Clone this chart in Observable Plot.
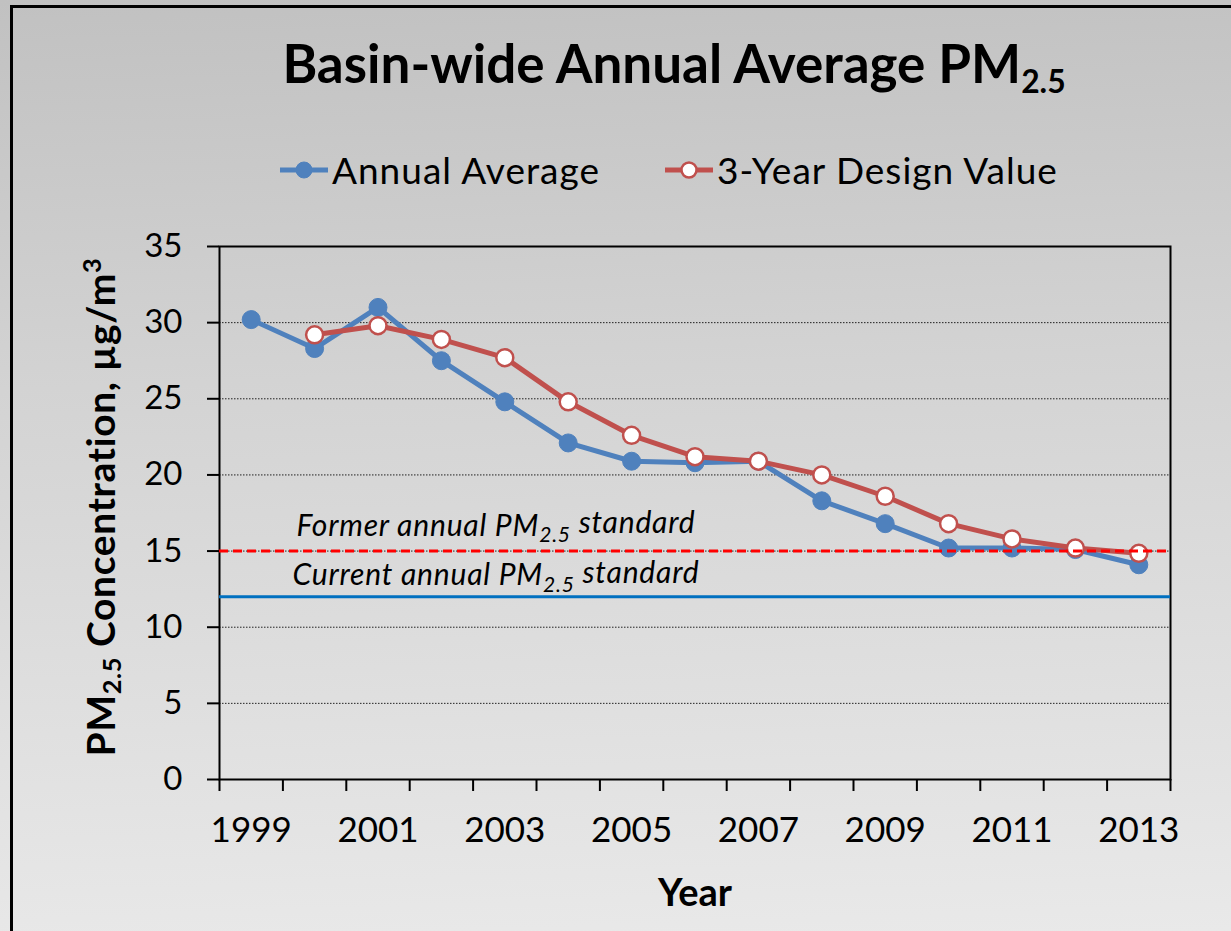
<!DOCTYPE html>
<html>
<head>
<meta charset="utf-8">
<script src="https://cdn.jsdelivr.net/npm/d3@7"></script>
<script src="https://cdn.jsdelivr.net/npm/@observablehq/plot@0.6"></script>
<style>
  html, body { margin: 0; padding: 0; }
  body {
    width: 1231px; height: 931px; overflow: hidden;
    background: linear-gradient(178deg, #c1c1c1 0%, #d3d3d3 40%, #e9e9e9 100%);
    font-family: Lato, "Open Sans", sans-serif;
  }
  #wrap { position: relative; width: 1231px; height: 931px; }
  #frame {
    position: absolute; left: 10px; top: 5px; width: 1400px; height: 1100px;
    border-left: 3px solid #000; border-top: 3px solid #000; box-sizing: border-box;
  }
  #title {
    position: absolute; left: 674px; top: 36px; transform: translateX(-50%);
    white-space: nowrap; font-weight: bold; font-size: 53px; line-height: 1; color: #000;
  }
  #title sub { font-size: 60%; vertical-align: -0.3em; line-height: 0; }
  .legend-item {
    position: absolute; top: 150px; display: flex; align-items: center;
    white-space: nowrap; font-size: 37px; letter-spacing: 1px; line-height: 40px; color: #000;
  }
  .legend-item svg { margin-right: 4px; }
  #ylabel {
    position: absolute; left: 100px; top: 507px;
    transform: translate(-50%, -50%) rotate(-90deg);
    white-space: nowrap; font-weight: bold; font-size: 39px; letter-spacing: 0.6px; line-height: 1; color: #000;
  }
  #ylabel sub { font-size: 65%; vertical-align: -0.25em; line-height: 0; }
  #ylabel sup { font-size: 65%; vertical-align: 0.55em; line-height: 0; }
  #xlabel {
    position: absolute; left: 695px; top: 872px; transform: translateX(-50%);
    white-space: nowrap; font-weight: bold; font-size: 38px; line-height: 1; color: #000;
  }
  #chart { position: absolute; left: 0; top: 0; }
  g.anno text { letter-spacing: 0.8px; }
</style>
</head>
<body>
<div id="wrap">
  <div id="frame"></div>
  <div id="chart"></div>
  <div id="title">Basin-wide Annual Average PM<sub>2.5</sub></div>
  <div id="legend"></div>
  <div id="ylabel">PM<sub>2.5</sub> Concentration, µg/m<sup>3</sup></div>
  <div id="xlabel">Year</div>
</div>
<script>
// ---- data ----
const years = [1999, 2000, 2001, 2002, 2003, 2004, 2005, 2006, 2007, 2008, 2009, 2010, 2011, 2012, 2013];
const annualAverage = [30.2, 28.3, 31.0, 27.5, 24.8, 22.1, 20.9, 20.8, 20.9, 18.3, 16.8, 15.2, 15.2, 15.1, 14.1];
const designValue = [null, 29.2, 29.8, 28.9, 27.7, 24.8, 22.6, 21.2, 20.9, 20.0, 18.6, 16.8, 15.8, 15.2, 14.85];
const seriesNames = ["Annual Average", "3-Year Design Value"];
const seriesColors = ["#4f81bd", "#c0504d"];
const yTicks = [0, 5, 10, 15, 20, 25, 30, 35];
const gridLines = [5, 10, 15, 20, 25, 30];
const xLabelYears = [1999, 2001, 2003, 2005, 2007, 2009, 2011, 2013];
const formerStandard = 15;
const currentStandard = 12;
const standardColors = ["#ff0000", "#0070c0"];
const annotations = [
  { x: 2002.86, y: formerStandard, pre: "Former annual PM", sub: "2.5", post: " standard" },
  { x: 2002.86, y: currentStandard, pre: "Current annual PM", sub: "2.5", post: " standard" }
];

const annualData = years.map((year, i) => ({ year, value: annualAverage[i] }));
const designData = years.map((year, i) => ({ year, value: designValue[i] })).filter(d => d.value != null);
const boundaries = years.map(y => y - 0.5).concat([years[years.length - 1] + 0.5]);

const plot = Plot.plot({
  width: 1231,
  height: 931,
  marginLeft: 219,
  marginRight: 61,
  marginTop: 246,
  marginBottom: 152,
  style: { background: "transparent", fontFamily: "Lato, 'Open Sans', sans-serif", color: "#000", overflow: "visible" },
  x: { type: "linear", domain: [years[0] - 0.5, years[years.length - 1] + 0.5] },
  y: { domain: [0, 35] },
  marks: [
    Plot.ruleY(gridLines, { stroke: "#000", strokeWidth: 1, strokeDasharray: "1.5,1.5", strokeOpacity: 0.85 }),
    Plot.axisY({ ticks: yTicks, tickSize: 12, tickPadding: 25, fontSize: 33, label: null, tickFormat: d => String(d), strokeWidth: 2 }),
    Plot.axisX({ ticks: boundaries, tickSize: 12, tickFormat: () => "", label: null, strokeWidth: 2 }),
    Plot.axisX({ ticks: xLabelYears, tickSize: 0, tickPadding: 38, fontSize: 35, tickFormat: d => String(d), label: null }),
    Plot.frame({ stroke: "#000", strokeWidth: 2 }),
    Plot.line(annualData, { x: "year", y: "value", stroke: seriesColors[0], strokeWidth: 5, strokeLinejoin: "round" }),
    Plot.dot(annualData, { x: "year", y: "value", r: 9, fill: seriesColors[0], stroke: seriesColors[0], strokeWidth: 1 }),
    Plot.line(designData, { x: "year", y: "value", stroke: seriesColors[1], strokeWidth: 5, strokeLinejoin: "round" }),
    Plot.dot(designData, { x: "year", y: "value", r: 8.5, fill: "#fff", stroke: seriesColors[1], strokeWidth: 2.5 }),
    Plot.ruleY([currentStandard], { stroke: standardColors[1], strokeWidth: 3 }),
    Plot.ruleY([formerStandard], { stroke: standardColors[0], strokeWidth: 3, strokeDasharray: "9,5" }),
    Plot.text([annotations[0]], { x: "x", y: "y", text: d => d.pre + d.sub + d.post, dy: -25, fontSize: 30, fontStyle: "italic", fill: "#000", className: "anno" }),
    Plot.text([annotations[1]], { x: "x", y: "y", text: d => d.pre + d.sub + d.post, dy: -21, fontSize: 30, fontStyle: "italic", fill: "#000", className: "anno" })
  ]
});
document.getElementById("chart").appendChild(plot);

// subscripts inside the annotation texts
plot.querySelectorAll("g.anno text").forEach((t, i) => {
  const a = annotations[i];
  if (!a) return;
  t.textContent = "";
  const ns = "http://www.w3.org/2000/svg";
  const t1 = document.createElementNS(ns, "tspan"); t1.textContent = a.pre;
  const t2 = document.createElementNS(ns, "tspan"); t2.textContent = a.sub;
  t2.setAttribute("dy", "0.3em"); t2.setAttribute("font-size", "21");
  const t3 = document.createElementNS(ns, "tspan"); t3.textContent = a.post;
  t3.setAttribute("dy", "-0.3em");
  t.append(t1, t2, t3);
});

// legend
const legend = document.getElementById("legend");
const legendLeft = [280, 665];
seriesNames.forEach((name, i) => {
  const item = document.createElement("div");
  item.className = "legend-item";
  item.style.left = legendLeft[i] + "px";
  const filled = i === 0;
  item.innerHTML =
    `<svg width="48" height="40"><line x1="0" y1="20" x2="48" y2="20" stroke="${seriesColors[i]}" stroke-width="5"/>` +
    `<circle cx="24" cy="20" r="${filled ? 8 : 7.5}" fill="${filled ? seriesColors[i] : "#fff"}" stroke="${seriesColors[i]}" stroke-width="${filled ? 1 : 2.5}"/></svg>` +
    `<span>${name}</span>`;
  legend.appendChild(item);
});
</script>
</body>
</html>
